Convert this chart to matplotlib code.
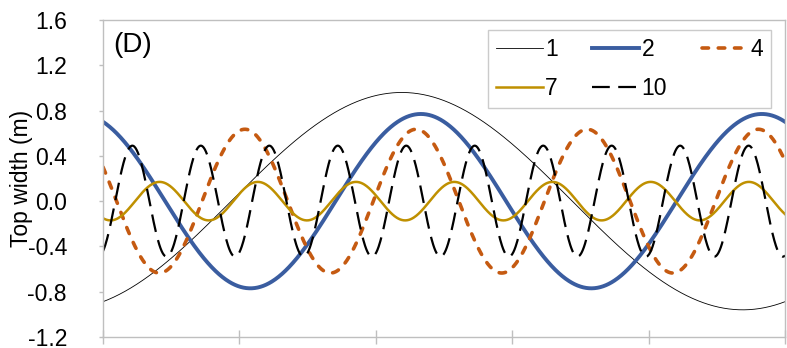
import numpy as np
import matplotlib.pyplot as plt

plt.rcParams['font.family'] = ['Liberation Sans', 'DejaVu Sans']

# wave modes: harmonic number, amplitude (m), wavelength and first crest along the reach
modes = [1, 2, 4, 7, 10]
amplitude = [0.96, 0.77, 0.635, 0.17, 0.49]
wavelength = [5.0, 2.5, 1.255, 0.72, 0.502]
crest = [2.19, 2.33, 1.04, 0.415, 0.215]
reach_end = 5.0

colors = ['black', '#3A5DA0', '#C55A11', '#BF9000', 'black']
widths = [0.6, 2.8, 2.6, 1.8, 1.6]
styles = ['-', '-', (0, (1.8, 2.7)), '-', (0, (8.0, 3.8))]
yticks = [-1.2, -0.8, -0.4, 0.0, 0.4, 0.8, 1.2, 1.6]

x = np.linspace(0, reach_end, 1201)

fig = plt.figure(figsize=(7.87, 3.48), dpi=100)
ax = fig.add_axes([0.1309, 0.0316, 0.8666, 0.9109])

lines = []
for n, a, wl, c0, col, lw, ls in zip(modes, amplitude, wavelength, crest, colors, widths, styles):
    y = a * np.cos(2 * np.pi * (x - c0) / wl)
    line, = ax.plot(x, y, color=col, lw=lw, linestyle=ls, label=str(n))
    if n == 4:
        line.set_dash_capstyle('round')
    lines.append(line)

ax.set_xlim(0, reach_end)
ax.set_ylim(-1.2, 1.6)
ax.set_yticks(yticks)
ax.set_yticklabels(['%.1f' % v for v in yticks])
ax.set_xticks(np.arange(0, 6))
ax.set_xticklabels([])
for s in ax.spines.values():
    s.set_color('#BFBFBF')
    s.set_linewidth(1.0)
ax.tick_params(axis='x', direction='inout', length=10, color='#BFBFBF', width=1.0)
ax.tick_params(axis='y', direction='out', length=3, color='#BFBFBF', width=1.0,
               labelsize=16.5, pad=23)
ax.set_ylabel('Top width (m)', fontsize=16.5)
ax.yaxis.set_label_coords(-0.103, 0.5)

ax.text(0.0147, 0.962, '(D)', transform=ax.transAxes, fontsize=20, va='top', ha='left')

# legend filled row by row: 1 2 4 / 7 10
order = [0, 3, 1, 4, 2]
leg = ax.legend([lines[i] for i in order], [str(modes[i]) for i in order],
                ncol=3, loc='upper left', bbox_to_anchor=(0.5645, 0.9686),
                fontsize=16.5, frameon=True, fancybox=False, handlelength=2.05,
                handletextpad=0.1, columnspacing=1.5, borderpad=0.35,
                labelspacing=0.7, borderaxespad=0.0)
leg.get_frame().set_edgecolor('#BFBFBF')
leg.get_frame().set_linewidth(1.0)

fig.savefig('out.png', dpi=100)
